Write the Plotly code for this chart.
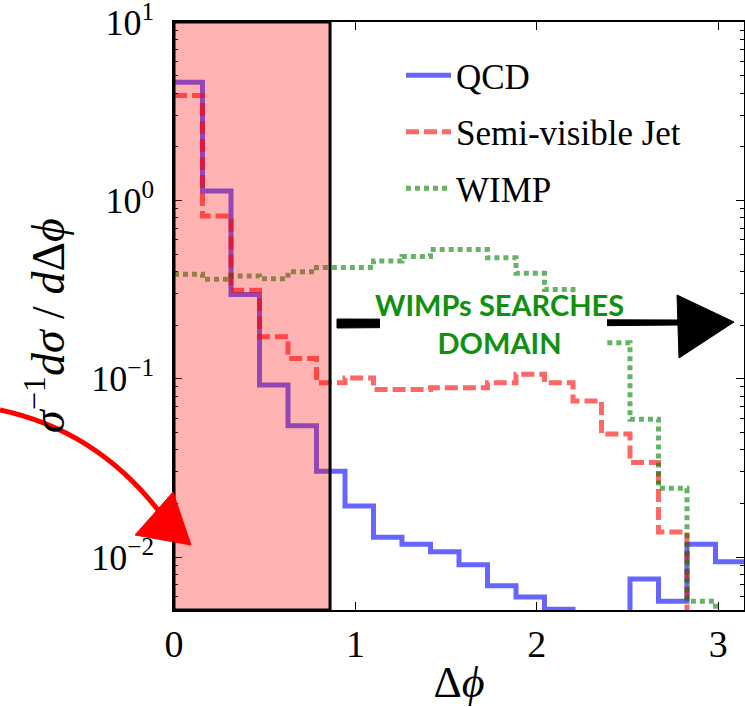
import plotly.graph_objects as go

# ---------------- data ----------------
BIN_EDGES = [0.0, 0.1571, 0.3142, 0.4712, 0.6283, 0.7854, 0.9425, 1.0996, 1.2566, 1.4137,
             1.5708, 1.7279, 1.8850, 2.0420, 2.1991, 2.3562, 2.5133, 2.6704, 2.8274, 2.9845, 3.1416]

QCD = [4.6, 1.13, 0.297, 0.0923, 0.0544, 0.0303, 0.0193, 0.0129, 0.0118, 0.0107,
       0.00905, 0.0069, 0.00597, 0.0051, 0.001, 0.001, 0.00753, 0.00565, 0.0118, 0.0094]
SVJ = [3.87, 0.817, 0.313, 0.172, 0.130, 0.095, 0.101, 0.087, 0.087, 0.089,
       0.089, 0.095, 0.106, 0.095, 0.075, 0.0489, 0.0339, 0.0138, 0.001, 0.001]
WIMP = [0.385, 0.361, 0.377, 0.364, 0.398, 0.420, 0.420, 0.457, 0.484, 0.531,
        0.531, 0.477, 0.390, 0.317, 0.28, 0.159, 0.0593, 0.0243, 0.00565, 0.001]

SERIES_NAMES = ["QCD", "Semi-visible Jet", "WIMP"]
Y_TICK_VALS = [0.01, 0.1, 1, 10]
Y_TICK_TEXT = ["10<sup>−2</sup>", "10<sup>−1</sup>", "10<sup>0</sup>", "10<sup>1</sup>"]
Y_MINOR_VALS = [0.006, 0.007, 0.008, 0.009,
                0.02, 0.03, 0.04, 0.05, 0.06, 0.07, 0.08, 0.09,
                0.2, 0.3, 0.4, 0.5, 0.6, 0.7, 0.8, 0.9,
                2, 3, 4, 5, 6, 7, 8, 9]
X_TICK_VALS = [0, 1, 2, 3]
X_TICK_TEXT = ["0", "1", "2", "3"]
SHADED_MAX = 0.86
ANNOT_TEXT = "WIMPs SEARCHES<br>DOMAIN"

SERIF = "Liberation Serif"

# ---------------- geometry helpers (pixel -> paper) ----------------
W, H = 745, 707
L, R, T, B = 174, 1, 22, 97
PW, PH = W - L - R, H - T - B


def px(x):
    return (x - L) / PW


def py(y):
    return (H - B - y) / PH


def step(vals):
    return list(vals) + [vals[-1]]


fig = go.Figure()
styles = [
    dict(color="rgba(0,0,255,0.6)", width=5, dash="solid"),
    dict(color="rgba(255,0,0,0.6)", width=5, dash="13px,5px"),
    dict(color="rgba(0,128,0,0.6)", width=5, dash="5px,4px"),
]
for i, (name, vals) in enumerate(zip(SERIES_NAMES, [QCD, SVJ, WIMP])):
    fig.add_trace(go.Scatter(
        x=BIN_EDGES, y=step(vals), mode="lines", name=name,
        line=dict(shape="hv", **styles[i]), legendgroup=f"g{i}",
    ))

shapes = []
# shaded QCD region
shapes.append(dict(type="rect", xref="x", yref="paper", x0=0, x1=SHADED_MAX, y0=0, y1=1,
                   fillcolor="rgba(255,0,0,0.3)", line=dict(color="black", width=3), layer="above"))
# black arrow
shapes.append(dict(type="path", xref="paper", yref="paper",
                   path=f"M{px(337)},{py(319)} L{px(682)},{py(320)} L{px(682)},{py(325)} L{px(337)},{py(328)} Z",
                   fillcolor="black", line=dict(color="black", width=1)))
shapes.append(dict(type="path", xref="paper", yref="paper",
                   path=f"M{px(677)},{py(295)} L{px(734)},{py(322)} L{px(679)},{py(358)} Z",
                   fillcolor="black", line=dict(color="black", width=1)))
# white box behind text
shapes.append(dict(type="rect", xref="paper", yref="paper", x0=px(380), x1=px(607), y0=py(362), y1=py(293),
                   fillcolor="white", line=dict(width=0)))
# red curved arrow
shapes.append(dict(type="path", xref="paper", yref="paper",
                   path=f"M{px(0)},{py(410)} Q{px(95)},{py(430)} {px(158)},{py(510)}",
                   line=dict(color="red", width=5)))
shapes.append(dict(type="path", xref="paper", yref="paper",
                   path=f"M{px(135)},{py(535)} L{px(173)},{py(492)} L{px(191)},{py(545)} Z",
                   fillcolor="red", line=dict(color="red", width=1)))

annotations = [
    dict(xref="paper", yref="paper", x=px(499), y=py(323), text=ANNOT_TEXT, showarrow=False,
         font=dict(family="Lato", size=29, color="#0f900f", weight="bold"), xanchor="center", yanchor="middle"),
    dict(xref="paper", yref="paper", x=px(45), y=py(326), textangle=-90, showarrow=False,
         text="<i>σ</i><sup>−1</sup><i>dσ</i> / <i>d</i>Δ<i>ϕ</i>",
         font=dict(family=SERIF, size=46, color="black"), xanchor="center", yanchor="middle"),
]

fig.update_layout(
    width=W, height=H, margin=dict(l=L, r=R, t=T, b=B, autoexpand=False),
    paper_bgcolor="white", plot_bgcolor="white",
    shapes=shapes, annotations=annotations,
    showlegend=True,
    legend=dict(x=px(401), y=py(46), xanchor="left", yanchor="top", bgcolor="rgba(0,0,0,0)",
                font=dict(family=SERIF, size=35, color="black"), tracegroupgap=8, itemwidth=45),
    font=dict(family=SERIF, color="black"),
)
fig.update_xaxes(range=[0, 3.1416], tickvals=X_TICK_VALS, ticktext=X_TICK_TEXT, automargin=False,
                 ticks="inside", ticklen=8, tickcolor="black", showline=True, linecolor="black",
                 linewidth=1.5, mirror="allticks", showgrid=False, zeroline=False,
                 tickfont=dict(family=SERIF, size=38), ticklabelstandoff=0,
                 title=dict(text="Δ<i>ϕ</i>", font=dict(family=SERIF, size=44), standoff=8))
fig.update_yaxes(type="log", range=[-2.297, 1.0005], tickvals=Y_TICK_VALS, ticktext=Y_TICK_TEXT,
                 automargin=False,
                 ticks="inside", ticklen=8, tickcolor="black", showline=True, linecolor="black",
                 linewidth=1.5, mirror="allticks", showgrid=False, zeroline=False,
                 tickfont=dict(family=SERIF, size=36), ticklabelstandoff=11,
                 ticklabeloverflow="allow",
                 minor=dict(tickvals=Y_MINOR_VALS, ticks="inside", ticklen=4, tickcolor="black",
                            showgrid=False))

fig.write_html("out.html")
